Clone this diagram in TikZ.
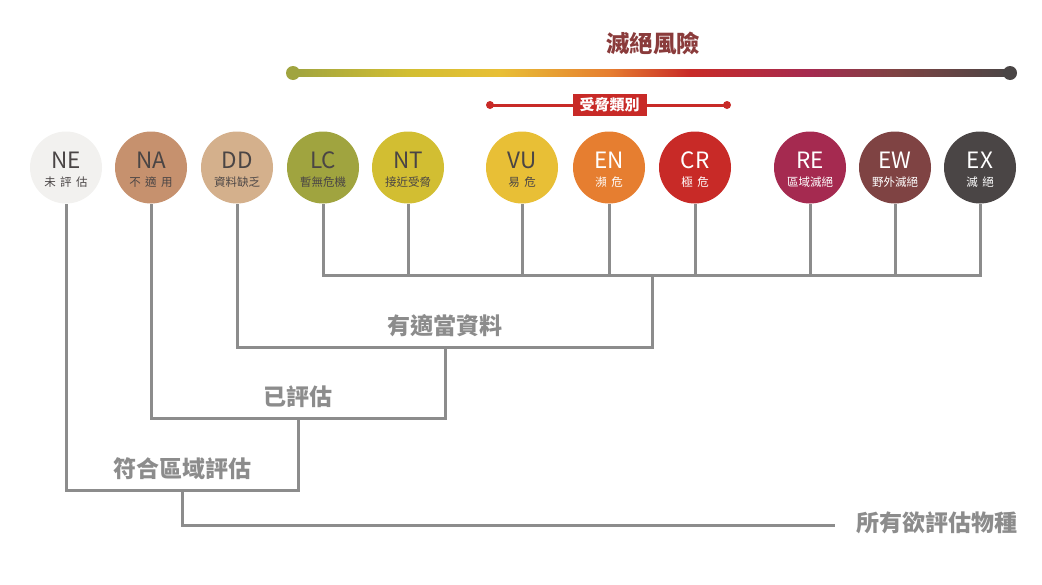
\documentclass[tikz,border=0pt]{standalone}
\usepackage{fontspec}
\setmainfont{Noto Sans CJK TC}
\usepackage{tikz}
\definecolor{iucnNE}{HTML}{F2F1EF}
\definecolor{iucnNA}{HTML}{C6916E}
\definecolor{iucnDD}{HTML}{D4B08C}
\definecolor{iucnLC}{HTML}{A0A43F}
\definecolor{iucnNT}{HTML}{D2BE32}
\definecolor{iucnVU}{HTML}{E8BF36}
\definecolor{iucnEN}{HTML}{E67E30}
\definecolor{iucnCR}{HTML}{C82A27}
\definecolor{iucnRE}{HTML}{A52A50}
\definecolor{iucnEW}{HTML}{7F4343}
\definecolor{iucnEX}{HTML}{4A4545}
\definecolor{darktext}{HTML}{4A4545}
\definecolor{treegray}{HTML}{8C8C8C}
\definecolor{riskred}{HTML}{8A3B3B}
\usetikzlibrary{positioning, calc}
\newcommand{\subgap}{\hspace{4.5pt}}

\tikzset{
  cat/.style={circle, minimum size=72pt, inner sep=0pt, align=center},
  tree/.style={draw=treegray, line width=3pt},
  grouplabel/.style={text=treegray, font=\fontsize{23}{26}\selectfont\bfseries},
}

\begin{document}
\begin{tikzpicture}[x=1pt, y=-1pt]
\useasboundingbox (0,0) rectangle (1042,584);

% Extinction risk scale
\node[text=riskred, font=\fontsize{23.5}{26}\selectfont\bfseries] (risk) at (653,43) {滅絕風險};
\coordinate (rl) at (293,73);
\coordinate (rr) at (1010,73);
\foreach \xa/\xb/\ca/\cb in {293/408/iucnLC/iucnNT, 408/500/iucnNT/iucnVU, 500/609/iucnVU/iucnEN,
    609/690/iucnEN/iucnCR, 690/810/iucnCR/iucnRE, 810/895/iucnRE/iucnEW, 895/1010/iucnEW/iucnEX} {
    \shade[left color=\ca, right color=\cb] (\xa,69.5) rectangle (\xb,76.5);
}
\fill[iucnLC] (rl) circle (7pt);
\fill[iucnEX] (rr) circle (7pt);

% Threatened categories
\coordinate (tl) at (490,105);
\coordinate (tr) at (727,105);
\draw[iucnCR, line width=3pt] (tl) -- (tr);
\fill[iucnCR] (tl) circle (4pt) (tr) circle (4pt);
\node[fill=iucnCR, text=white, font=\fontsize{15}{17}\selectfont\bfseries, minimum height=22pt, inner xsep=7pt] (threat) at (609.5,105) {受脅類別};

% Categories
\foreach \n/\x/\t/\s in {NE/66/darktext/未\subgap{}評\subgap{}估, NA/151/darktext/不\subgap{}適\subgap{}用, DD/237/darktext/資料缺乏,
    LC/323/darktext/暫無危機, NT/408/darktext/接近受脅, VU/522/darktext/易\subgap{}危,
    EN/609/white/瀕\subgap{}危, CR/695/white/極\subgap{}危, RE/810/white/區域滅絕,
    EW/895/white/野外滅絕, EX/980/white/滅\subgap{}絕} {
    \node[cat, fill=iucn\n, text=\t] (\n) at (\x,167.5) {\rule{0pt}{20pt}{\fontsize{22.5}{26}\selectfont \n}\\[6pt]{\fontsize{11.5}{13}\selectfont \s}};
}

% Adequate data
\coordinate (j1) at (652,275);
\coordinate (j2) at (445,347);
\draw[tree] (LC.south) -- (LC |- j1) -- (EX |- j1) -- (EX.south);
\foreach \n in {NT, VU, EN, CR, RE, EW} {
    \draw[tree] (\n.south) -- (\n |- j1);
}
\draw[tree] (j1) -- (j1 |- j2) -- (DD |- j2) -- (DD.south);
\node[grouplabel] (adequate) at (445,326) {有適當資料};

% Evaluated
\coordinate (j3) at (298,418);
\draw[tree] (j2) -- (j2 |- j3) -- (NA |- j3) -- (NA.south);
\node[grouplabel] (evaluated) at (298,397) {已評估};

% Eligible for regional assessment
\coordinate (j4) at (182,490);
\draw[tree] (j3) -- (j3 |- j4) -- (NE |- j4) -- (NE.south);
\node[grouplabel] (eligible) at (182,469) {符合區域評估};

% All species
\node[grouplabel, anchor=west] (all) at (853,523) {所有欲評估物種};
\coordinate (j5) at (182,525);
\coordinate (allend) at (835,525);
\draw[tree] (j4) -- (j5) -- (allend);
\end{tikzpicture}
\end{document}
